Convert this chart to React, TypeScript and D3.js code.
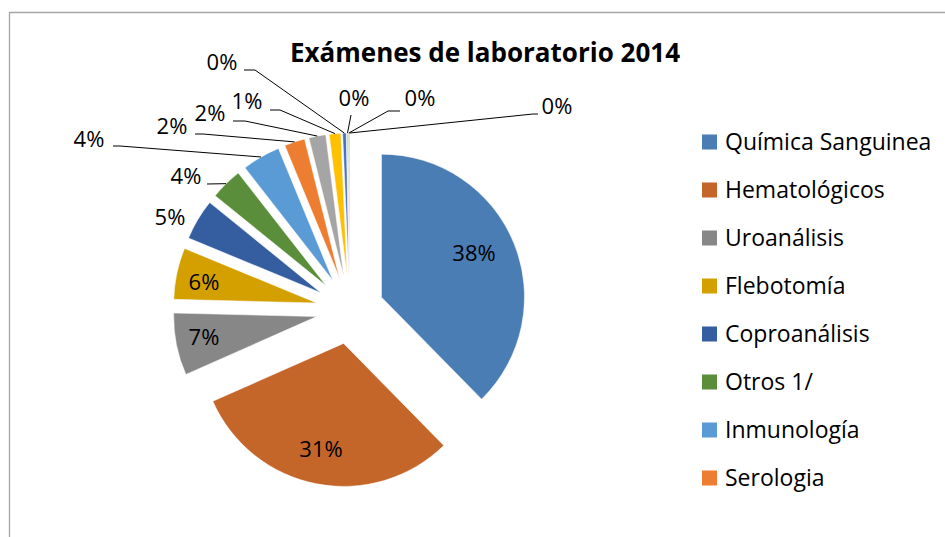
import * as d3 from "d3";

// categorías (el gráfico original solo muestra 8 en la leyenda)
const categories = [
  "Química Sanguinea",
  "Hematológicos",
  "Uroanálisis",
  "Flebotomía",
  "Coproanálisis",
  "Otros 1/",
  "Inmunología",
  "Serologia",
  "Categoría 9",
  "Categoría 10",
  "Categoría 11",
  "Categoría 12",
  "Categoría 13",
  "Categoría 14",
];
// porcentajes aproximados
const values = [37.5, 30.6, 7.0, 5.8, 4.6, 3.6, 4.3, 2.3, 1.9, 1.3, 0.4, 0.15, 0.1, 0.05];
const legendCount = 8;
const title = "Exámenes de laboratorio 2014";

const colors = [
  "#4a7db4", "#c4652a", "#878787", "#d4a000", "#355ea1", "#5b8e3b", "#5b9bd5",
  "#ed7d31", "#a5a5a5", "#ffc000", "#4472c4", "#e6b0b0", "#70ad47", "#255e91",
];

// posición de etiquetas relativas al centro del pastel, y puntos de la línea guía
const labelLayout: { dx: number; dy: number; line?: [number, number][] }[] = [
  { dx: 124, dy: -57 },
  { dx: -29, dy: 139 },
  { dx: -146, dy: 27 },
  { dx: -146, dy: -28 },
  { dx: -180, dy: -93 },
  { dx: -164, dy: -134, line: [[-143, -126]] },
  { dx: -261, dy: -171, line: [[-237, -164], [-230, -164]] },
  { dx: -178, dy: -184, line: [[-155, -176], [-147, -176]] },
  { dx: -140, dy: -197, line: [[-117, -189], [-105, -189]] },
  { dx: -103, dy: -209, line: [[-80, -200], [-70, -200]] },
  { dx: -128, dy: -248, line: [[-106, -240], [-95, -240]] },
  { dx: 4, dy: -212, line: [[1, -195]] },
  { dx: 70, dy: -212, line: [[50, -199], [38, -199]] },
  { dx: 207, dy: -204, line: [[188, -196], [183, -196]] },
];

const W = 945;
const H = 537;
const cx = 350;
const cy = 310;
const radius = 143;
const explode = 34;
const font = "'Open Sans', 'Noto Sans', sans-serif";

export default function App() {
  const total = d3.sum(values);
  const arcs = d3.pie<number>().sort(null).value((d) => d)(values);
  const arcGen = d3.arc<d3.PieArcDatum<number>>().innerRadius(0).outerRadius(radius);

  const legendY = d3
    .scaleBand<number>()
    .domain(d3.range(legendCount))
    .range([118, 502]);

  return (
    <>
      <style>{`body{margin:0}`}</style>
      <svg width={W} height={H} style={{ display: "block", fontFamily: font }}>
        <rect width={W} height={H} fill="#fff" />
        <path d={`M9.5,${H} V12.5 H${W}`} fill="none" stroke="#a6a6a6" strokeWidth={1.3} />

        <text x={485} y={62} textAnchor="middle" fontSize={26} fontWeight="bold" fill="#000">
          {title}
        </text>

        {arcs.map((a, i) => {
          const mid = (a.startAngle + a.endAngle) / 2;
          const ox = explode * Math.sin(mid);
          const oy = -explode * Math.cos(mid);
          return (
            <path
              key={"s" + i}
              d={arcGen(a) ?? ""}
              transform={`translate(${cx + ox},${cy + oy})`}
              fill={colors[i]}
              stroke="#fff"
              strokeWidth={0.5}
            />
          );
        })}

        {arcs.map((a, i) => {
          const mid = (a.startAngle + a.endAngle) / 2;
          const ax = cx + (explode + radius) * Math.sin(mid);
          const ay = cy - (explode + radius) * Math.cos(mid);
          const lay = labelLayout[i];
          const pts = lay.line
            ? [...lay.line.map(([x, y]) => [cx + x, cy + y]), [ax, ay]]
            : null;
          return (
            <g key={"l" + i}>
              {pts && (
                <polyline
                  points={pts.map((p) => p.join(",")).join(" ")}
                  fill="none"
                  stroke="#000"
                  strokeWidth={1}
                />
              )}
              <text
                x={cx + lay.dx}
                y={cy + lay.dy}
                dy="0.36em"
                textAnchor="middle"
                fontSize={22}
                fill="#000"
              >
                {Math.round((values[i] / total) * 100) + "%"}
              </text>
            </g>
          );
        })}

        {d3.range(legendCount).map((i) => {
          const y = (legendY(i) ?? 0) + legendY.bandwidth() / 2;
          return (
            <g key={"g" + i}>
              <rect x={702} y={y - 7.5} width={15} height={15} fill={colors[i]} />
              <text x={725} y={y} dy="0.36em" fontSize={23} fill="#000">
                {categories[i]}
              </text>
            </g>
          );
        })}
      </svg>
    </>
  );
}
